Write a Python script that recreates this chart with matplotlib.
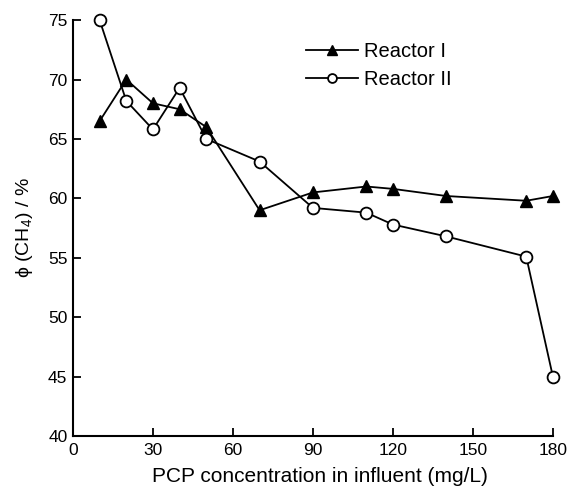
import matplotlib
matplotlib.use("Agg")
import matplotlib.pyplot as plt

plt.rcParams['font.family'] = ['Liberation Sans', 'DejaVu Sans']
plt.rcParams['mathtext.fontset'] = 'custom'
plt.rcParams['mathtext.rm'] = 'Liberation Sans'
plt.rcParams['mathtext.it'] = 'Liberation Sans:italic'

# PCP concentration in influent (mg/L)
pcp = [10, 20, 30, 40, 50, 70, 90, 110, 120, 140, 170, 180]
reactor1 = [66.5, 70.0, 68.0, 67.5, 66.0, 59.0, 60.5, 61.0, 60.8, 60.2, 59.8, 60.2]
reactor2 = [75.0, 68.2, 65.8, 69.3, 65.0, 63.1, 59.2, 58.8, 57.8, 56.8, 55.1, 45.0]

xticks = [0, 30, 60, 90, 120, 150, 180]
yticks = [40, 45, 50, 55, 60, 65, 70, 75]

fig = plt.figure(figsize=(5.7, 4.9), dpi=100)
ax = fig.add_axes([0.128, 0.110, 0.842, 0.849])

ax.plot(pcp, reactor1, color='black', lw=1.3, marker='^', ms=9,
        mfc='black', mec='black', label='Reactor I', clip_on=False, zorder=3)
ax.plot(pcp, reactor2, color='black', lw=1.3, marker='o', ms=8.5,
        mfc='white', mec='black', mew=1.3, label='Reactor II', clip_on=False, zorder=3)

ax.set_xlim(0, 180)
ax.set_ylim(40, 75)
ax.set_xticks(xticks)
ax.set_yticks(yticks)
ax.tick_params(direction='in', length=6, width=1.3, labelsize=12.5)
ax.tick_params(axis='x', pad=5)
ax.tick_params(axis='y', pad=4)
ax.spines['top'].set_visible(False)
ax.spines['right'].set_visible(False)
for s in ['left', 'bottom']:
    ax.spines[s].set_linewidth(1.5)

ax.set_xlabel('PCP concentration in influent (mg/L)', fontsize=15, labelpad=4)
ax.xaxis.set_label_coords(0.515, -0.075)
ax.set_ylabel('ϕ (CH$_4$) / %', fontsize=14, labelpad=9)

ax.legend(loc='upper left', bbox_to_anchor=(0.447, 0.99), frameon=False,
          fontsize=14.5, handlelength=2.6, handletextpad=0.3, labelspacing=0.45,
          markerscale=0.75)

fig.savefig('out.png', dpi=100)
